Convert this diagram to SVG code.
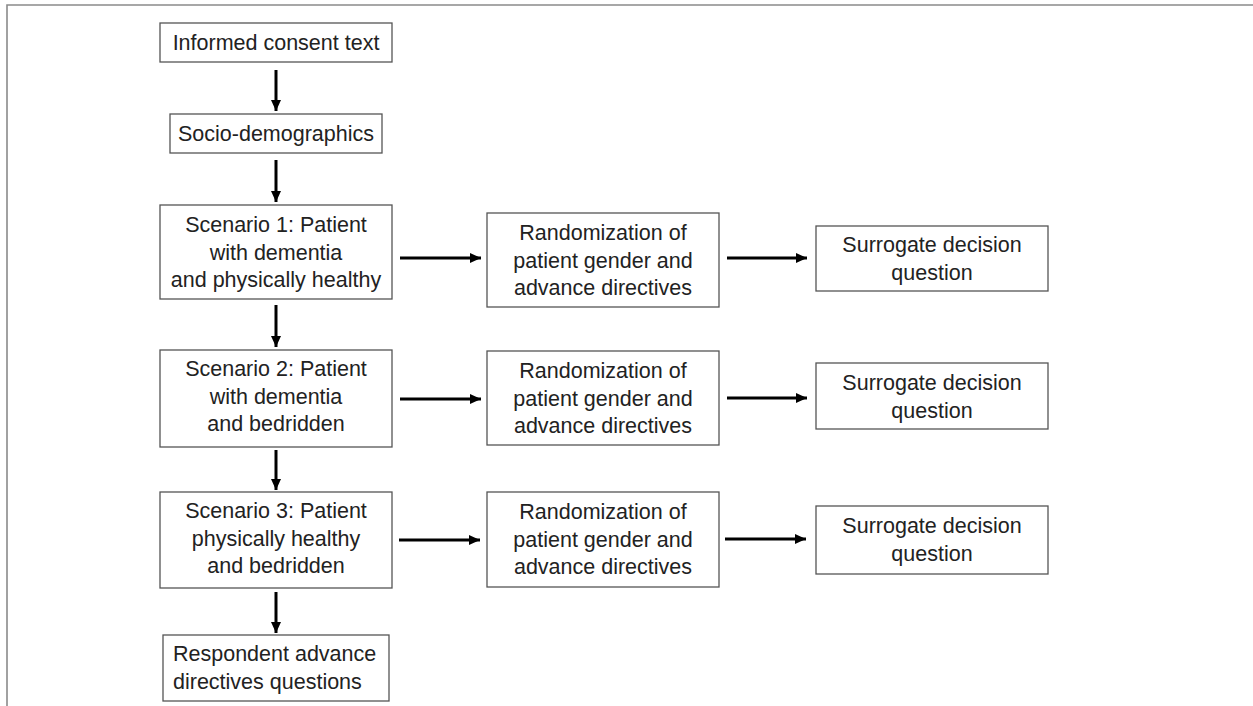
<svg xmlns="http://www.w3.org/2000/svg" width="1253" height="706" viewBox="0 0 1253 706">
<defs>
<style>
.box{fill:#fff;stroke:#555;stroke-width:1.3}
.t{font-family:"Liberation Sans",Arial,sans-serif;font-size:21.5px;fill:#222;text-anchor:middle}
.ts{font-family:"Liberation Sans",Arial,sans-serif;font-size:21.5px;fill:#222;text-anchor:start}
.c{stroke:#000;stroke-width:3;fill:none;marker-end:url(#ah)}
.frame{stroke:#8a8a8a;stroke-width:1.6;fill:none}
</style>
<marker id="ah" markerUnits="userSpaceOnUse" markerWidth="12" markerHeight="12" viewBox="0 0 12 12" refX="11" refY="6" orient="auto">
<path d="M0,1 L11,6 L0,11 Z" fill="#000"/>
</marker>
</defs>
<rect width="1253" height="706" fill="#fff"/>
<path class="frame" d="M7,706 L7,5 L1253,5"/>

<g id="connectors">
<line class="c" x1="276" y1="70" x2="276" y2="111"/>
<line class="c" x1="276" y1="160" x2="276" y2="202"/>
<line class="c" x1="276" y1="305" x2="276" y2="347"/>
<line class="c" x1="276" y1="450" x2="276" y2="490"/>
<line class="c" x1="276" y1="592" x2="276" y2="633"/>
<line class="c" x1="400" y1="258" x2="481" y2="258"/>
<line class="c" x1="400" y1="399" x2="481" y2="399"/>
<line class="c" x1="399" y1="540" x2="480" y2="540"/>
<line class="c" x1="727" y1="258" x2="807" y2="258"/>
<line class="c" x1="727" y1="398" x2="807" y2="398"/>
<line class="c" x1="725" y1="539" x2="806" y2="539"/>
</g>

<g id="consent">
<rect class="box" x="160" y="23" width="232" height="39"/>
<text class="t" x="276" y="50">Informed consent text</text>
</g>
<g id="socio">
<rect class="box" x="170" y="114" width="212" height="39"/>
<text class="t" x="276" y="141">Socio-demographics</text>
</g>
<g id="scenario1">
<rect class="box" x="160" y="205" width="232" height="94"/>
<text class="t" x="276" y="232">Scenario 1: Patient</text>
<text class="t" x="276" y="259.5">with dementia</text>
<text class="t" x="276" y="287">and physically healthy</text>
</g>
<g id="scenario2">
<rect class="box" x="160" y="350" width="232" height="97"/>
<text class="t" x="276" y="376">Scenario 2: Patient</text>
<text class="t" x="276" y="403.5">with dementia</text>
<text class="t" x="276" y="431">and bedridden</text>
</g>
<g id="scenario3">
<rect class="box" x="160" y="492" width="232" height="96"/>
<text class="t" x="276" y="518">Scenario 3: Patient</text>
<text class="t" x="276" y="545.5">physically healthy</text>
<text class="t" x="276" y="573">and bedridden</text>
</g>
<g id="random1">
<rect class="box" x="487" y="213" width="232" height="94"/>
<text class="t" x="603" y="240">Randomization of</text>
<text class="t" x="603" y="267.5">patient gender and</text>
<text class="t" x="603" y="295">advance directives</text>
</g>
<g id="random2">
<rect class="box" x="487" y="351" width="232" height="94"/>
<text class="t" x="603" y="378">Randomization of</text>
<text class="t" x="603" y="405.5">patient gender and</text>
<text class="t" x="603" y="433">advance directives</text>
</g>
<g id="random3">
<rect class="box" x="487" y="492" width="232" height="95"/>
<text class="t" x="603" y="519">Randomization of</text>
<text class="t" x="603" y="546.5">patient gender and</text>
<text class="t" x="603" y="574">advance directives</text>
</g>
<g id="surrogate1">
<rect class="box" x="816" y="226" width="232" height="65"/>
<text class="t" x="932" y="252">Surrogate decision</text>
<text class="t" x="932" y="279.5">question</text>
</g>
<g id="surrogate2">
<rect class="box" x="816" y="363" width="232" height="66"/>
<text class="t" x="932" y="390">Surrogate decision</text>
<text class="t" x="932" y="417.5">question</text>
</g>
<g id="surrogate3">
<rect class="box" x="816" y="506" width="232" height="68"/>
<text class="t" x="932" y="533">Surrogate decision</text>
<text class="t" x="932" y="560.5">question</text>
</g>
<g id="respondent">
<rect class="box" x="163" y="635" width="226" height="66"/>
<text class="ts" x="173" y="661">Respondent advance</text>
<text class="ts" x="173" y="688.5">directives questions</text>
</g>
</svg>
